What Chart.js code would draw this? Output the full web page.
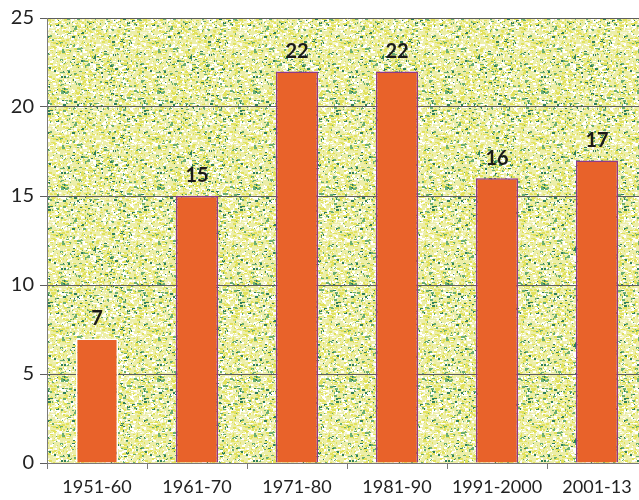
<!DOCTYPE html>
<html>
<head>
<meta charset="utf-8">
<script src="https://cdn.jsdelivr.net/npm/chart.js@4"></script>
<style>
  html, body { margin: 0; padding: 0; background: #fff; overflow: hidden; }
  #wrap { width: 647px; height: 500px; }
</style>
</head>
<body>
<div id="wrap"><canvas id="chart" width="647" height="500"></canvas></div>
<script>
// Veriler
const decades = ['1951-60', '1961-70', '1971-80', '1981-90', '1991-2000', '2001-13'];
const counts = [7, 15, 22, 22, 16, 17];
const yTicks = [0, 5, 10, 15, 20, 25];

const barColor = '#e8622a';
const barBorders = ['#ffffff', '#8e3a8c', '#8e3a8c', '#8e3a8c', '#8e3a8c', '#8e3a8c'];

// Dokulu arka plan deseni (sabit tohumlu, her seferinde aynı)
function makePattern(ctx) {
    const pc = document.createElement('canvas');
    pc.width = 96; pc.height = 96;
    const p = pc.getContext('2d');
    p.fillStyle = '#eceea8';
    p.fillRect(0, 0, 96, 96);
    let seed = 12345;
    const rnd = () => { seed = (seed * 1103515245 + 12345) % 2147483648; return seed / 2147483648; };
    for (let i = 0; i < 2400; i++) {
        const x = Math.floor(rnd() * 96), y = Math.floor(rnd() * 96);
        const r = rnd();
        if (r < 0.36) p.fillStyle = '#e2e25c';
        else if (r < 0.66) p.fillStyle = '#ffffff';
        else if (r < 0.80) p.fillStyle = '#6aae72';
        else if (r < 0.87) p.fillStyle = '#2f7f5a';
        else p.fillStyle = '#f6f6d2';
        p.fillRect(x, y, 1 + Math.floor(rnd() * 3), 1 + Math.floor(rnd() * 2));
    }
    return ctx.createPattern(pc, 'repeat');
}

const backgroundPlugin = {
    id: 'texturedBg',
    beforeDraw(chart) {
        const { ctx, chartArea } = chart;
        ctx.save();
        ctx.fillStyle = makePattern(ctx);
        ctx.fillRect(chartArea.left, chartArea.top, chartArea.right - chartArea.left, chartArea.bottom - chartArea.top);
        ctx.restore();
    }
};

// Çubukların üstüne değer yaz
const valueLabels = {
    id: 'valueLabels',
    afterDatasetsDraw(chart) {
        const { ctx } = chart;
        const meta = chart.getDatasetMeta(0);
        ctx.save();
        ctx.font = 'bold 20px Lato, "Open Sans", sans-serif';
        ctx.fillStyle = '#1a1a1a';
        ctx.textAlign = 'center';
        ctx.textBaseline = 'middle';
        meta.data.forEach((bar, i) => {
            ctx.fillText(String(counts[i]), bar.x, bar.y - 20);
        });
        ctx.restore();
    }
};

new Chart(document.getElementById('chart'), {
    type: 'bar',
    data: {
        labels: decades,
        datasets: [{
            data: counts,
            backgroundColor: barColor,
            borderColor: barBorders,
            borderWidth: 1.5,
            categoryPercentage: 1,
            barPercentage: 0.42
        }]
    },
    options: {
        responsive: false,
        animation: false,
        layout: { padding: { top: 16, left: 0, right: 0, bottom: 0 } },
        plugins: { legend: { display: false }, tooltip: { enabled: false } },
        scales: {
            x: {
                offset: true,
                grid: { display: true, drawOnChartArea: false, offset: true, tickLength: 6, color: '#7a7a7a' },
                border: { display: true, color: '#7a7a7a', width: 1 },
                ticks: { color: '#222', font: { size: 18, family: 'Lato, "Open Sans", sans-serif' }, padding: 7, maxRotation: 0, autoSkip: false },
                afterFit(scale) { scale.height = 37; }
            },
            y: {
                min: 0,
                max: 25,
                afterBuildTicks(scale) { scale.ticks = yTicks.map(v => ({ value: v })); },
                grid: { color: '#5e5e5e', tickLength: 7, lineWidth: 1 },
                border: { display: true, color: '#7a7a7a' },
                ticks: { color: '#222', font: { size: 20, family: 'Lato, "Open Sans", sans-serif' }, padding: 6 },
                afterFit(scale) { scale.width = 47; }
            }
        }
    },
    plugins: [backgroundPlugin, valueLabels]
});
</script>
</body>
</html>
